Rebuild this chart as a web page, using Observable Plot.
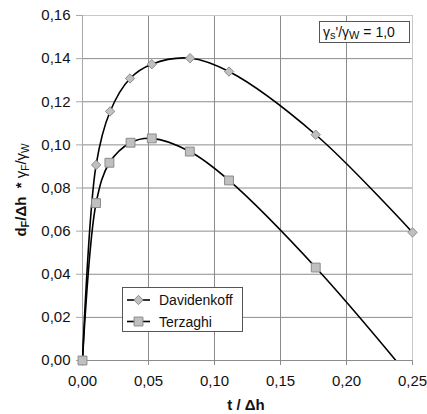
<!DOCTYPE html>
<html><head><meta charset="utf-8">
<script src="https://cdn.jsdelivr.net/npm/d3@7"></script>
<script src="https://cdn.jsdelivr.net/npm/@observablehq/plot@0.6"></script>
<style>
body{margin:0;background:#fff}
svg{font-family:Arial,"Liberation Sans",sans-serif}
</style>
</head><body><div id="chart"></div>
<script>
// Data
const tDav = [0, 0.0103, 0.0209, 0.036, 0.0525, 0.0815, 0.111, 0.1767, 0.25];
const yDav = [0, 0.0907, 0.1155, 0.1308, 0.1374, 0.1402, 0.134, 0.1047, 0.0594];
const tTer = [0, 0.0103, 0.0204, 0.0364, 0.0525, 0.0813, 0.111, 0.1767, 0.25];
const yTer = [0, 0.073, 0.0917, 0.101, 0.103, 0.0969, 0.0835, 0.0431, -0.0093];
const seriesNames = ["Davidenkoff", "Terzaghi"];
const xTicks = [0, 0.05, 0.10, 0.15, 0.20, 0.25];
const yTicks = [0, 0.02, 0.04, 0.06, 0.08, 0.10, 0.12, 0.14, 0.16];
const xLabel = "t / Δh";
const ratioText = ["γ", "s", "'/γ", "W", " = 1,0"];

const dav = tDav.map((t, i) => ({t, v: yDav[i], s: seriesNames[0]}));
const ter = tTer.map((t, i) => ({t, v: yTer[i], s: seriesNames[1]}));
const fmt = d => d3.format(".2f")(d).replace(".", ",");

const gridCol = "#8c8c8c", frameCol = "#c8c8c8";
const mFill = "#c0c0c0", mStroke = "#8a8a8a";

const plot = Plot.plot({
  width: 427, height: 414,
  marginLeft: 82, marginRight: 15, marginTop: 15, marginBottom: 54,
  style: {fontFamily: "Arial, 'Liberation Sans', sans-serif", background: "#fff", color: "#000"},
  x: {domain: [0, 0.25]},
  y: {domain: [0, 0.16]},
  marks: [
    Plot.gridX(xTicks.slice(1, -1), {stroke: gridCol, strokeOpacity: 1}),
    Plot.gridY(yTicks.slice(1, -1), {stroke: gridCol, strokeOpacity: 1}),
    Plot.ruleX([xTicks[xTicks.length - 1]], {stroke: frameCol}),
    Plot.ruleY([yTicks[yTicks.length - 1]], {stroke: frameCol}),
    Plot.ruleX([0], {stroke: "#a8a8a8"}),
    Plot.ruleY([0], {stroke: gridCol}),
    Plot.axisX({ticks: xTicks, tickFormat: fmt, tickSize: 5, tickPadding: 10, fontSize: 15, stroke: gridCol, fill: "#111", label: null}),
    Plot.axisY({ticks: yTicks, tickFormat: fmt, tickSize: 6, tickPadding: 6, fontSize: 15, stroke: "#a8a8a8", fill: "#111", label: null}),
    Plot.line(dav, {x: "t", y: "v", curve: "catmull-rom", stroke: "#000", strokeWidth: 1.6, clip: true}),
    Plot.line(ter, {x: "t", y: "v", curve: "catmull-rom", stroke: "#000", strokeWidth: 1.6, clip: true}),
    Plot.dot(dav, {x: "t", y: "v", symbol: "diamond2", r: 4.2, fill: mFill, stroke: mStroke, strokeWidth: 1}),
    Plot.dot(ter, {filter: d => d.v >= 0, x: "t", y: "v", symbol: "square", r: 5, fill: mFill, stroke: mStroke, strokeWidth: 1})
  ]
});

const svg = d3.select(plot);

// x axis title
svg.append("text").attr("x", 246).attr("y", 410).attr("text-anchor", "middle")
  .attr("font-size", 15).attr("font-weight", "bold").attr("fill", "#111").text(xLabel);

// y axis title with subscripts
const yl = svg.append("text").attr("transform", "translate(26,190) rotate(-90)")
  .attr("text-anchor", "middle").attr("font-size", 15).attr("fill", "#111");
yl.append("tspan").attr("font-weight", "bold").text("d");
yl.append("tspan").attr("font-weight", "bold").attr("font-size", 11).attr("dy", 3).text("F");
yl.append("tspan").attr("font-weight", "bold").attr("dy", -3).text("/Δh  * ");
yl.append("tspan").text("γ");
yl.append("tspan").attr("font-size", 10).attr("dy", 3).text("F");
yl.append("tspan").attr("dy", -3).text("/γ");
yl.append("tspan").attr("font-size", 10).attr("dy", 3).text("W");

// ratio annotation box
svg.append("rect").attr("x", 319.5).attr("y", 21.5).attr("width", 90).attr("height", 21)
  .attr("fill", "#fff").attr("stroke", "#555");
const rt = svg.append("text").attr("x", 323).attr("y", 37).attr("text-anchor", "start")
  .attr("font-size", 14).attr("fill", "#111");
rt.append("tspan").text(ratioText[0]);
rt.append("tspan").attr("font-size", 11).attr("dy", 2).text(ratioText[1]);
rt.append("tspan").attr("dy", -2).text(ratioText[2]);
rt.append("tspan").attr("font-size", 11).attr("dy", 2).text(ratioText[3]);
rt.append("tspan").attr("dy", -2).text(ratioText[4]);

// legend
const lg = svg.append("g");
lg.append("rect").attr("x", 122.5).attr("y", 287.5).attr("width", 120).attr("height", 44)
  .attr("fill", "#fff").attr("stroke", "#555");
const syms = [d3.symbolDiamond2, d3.symbolSquare];
const sizes = [Math.PI * 4.2 * 4.2, Math.PI * 5 * 5];
seriesNames.forEach((name, i) => {
  const cy = 300 + i * 21.5;
  lg.append("line").attr("x1", 127).attr("x2", 150).attr("y1", cy).attr("y2", cy)
    .attr("stroke", "#000").attr("stroke-width", 1.6);
  lg.append("path").attr("d", d3.symbol(syms[i], sizes[i])())
    .attr("transform", `translate(138.5,${cy})`).attr("fill", mFill).attr("stroke", mStroke);
  lg.append("text").attr("x", 159).attr("y", cy + 5).attr("text-anchor", "start")
    .attr("font-size", 14).attr("fill", "#111").text(name);
});

document.getElementById("chart").appendChild(plot);
</script>
</body></html>
